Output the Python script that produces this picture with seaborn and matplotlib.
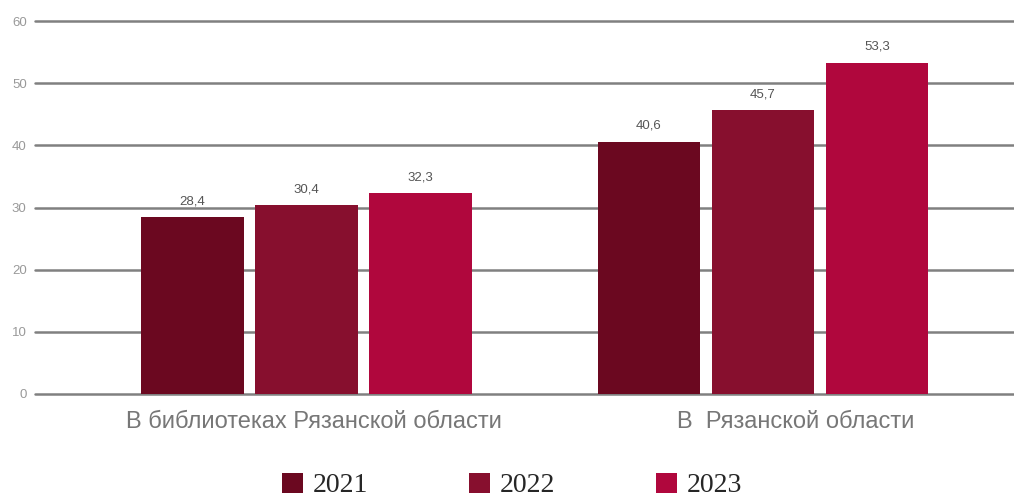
import pandas as pd
import numpy as np
import matplotlib.pyplot as plt
import matplotlib.transforms as mtrans
import seaborn as sns

# данные
categories = ['В библиотеках Рязанской области', 'В  Рязанской области']
years = ['2021', '2022', '2023']
v2021 = [28.4, 40.6]
v2022 = [30.4, 45.7]
v2023 = [32.3, 53.3]
colors = ['#6B0820', '#870F2E', '#B0073D']

df = pd.DataFrame({
    'cat': categories * 3,
    'year': [y for y in years for _ in categories],
    'value': v2021 + v2022 + v2023,
})

sns.set_style('white')
plt.rcParams['font.family'] = ['Liberation Sans', 'DejaVu Sans']

fig = plt.figure(figsize=(10.14, 5.0), dpi=100)
ax = fig.add_axes([35/1014, 1 - 394/500, 1 - 35/1014, 373/500])

sns.barplot(data=df, x='cat', y='value', hue='year', palette=colors,
            width=0.75, gap=0.1, saturation=1, linewidth=0, ax=ax, zorder=3)

# подписи значений
for cont in ax.containers:
    ax.bar_label(cont, labels=[f'{v:.1f}'.replace('.', ',') for v in cont.datavalues],
                 padding=7, fontsize=9.5, color='#555555')

ax.set_ylim(0, 60)
ax.set_yticks(range(0, 61, 10))
ax.set_xlim(-0.595, 1.55)
ax.yaxis.grid(True, color='#808080', linewidth=1.8, zorder=0)
for gl in ax.get_ygridlines():
    gl.set_clip_on(False)
ax.set_axisbelow(True)
for s in ax.spines.values():
    s.set_visible(False)
ax.set_xlabel('')
ax.set_ylabel('')
ax.tick_params(axis='y', length=0, pad=6, labelsize=9.5, labelcolor='#999999')
ax.tick_params(axis='x', length=0, pad=12, labelsize=17, labelcolor='#777777')

# сдвиг подписей категорий как в оригинале
for lbl, dx in zip(ax.get_xticklabels(), [7, 33]):
    lbl.set_transform(lbl.get_transform() + mtrans.ScaledTranslation(dx / 100, 0, fig.dpi_scale_trans))

handles, labels = ax.get_legend_handles_labels()
ax.get_legend().remove()
fig.legend(handles, labels, loc='lower center', bbox_to_anchor=(0.505, -0.047),
           ncol=3, frameon=False, handlelength=0.75, handleheight=0.75,
           handletextpad=0.36, columnspacing=3.63,
           prop={'family': 'Liberation Serif', 'size': 20})

fig.savefig('out.png', dpi=100)
